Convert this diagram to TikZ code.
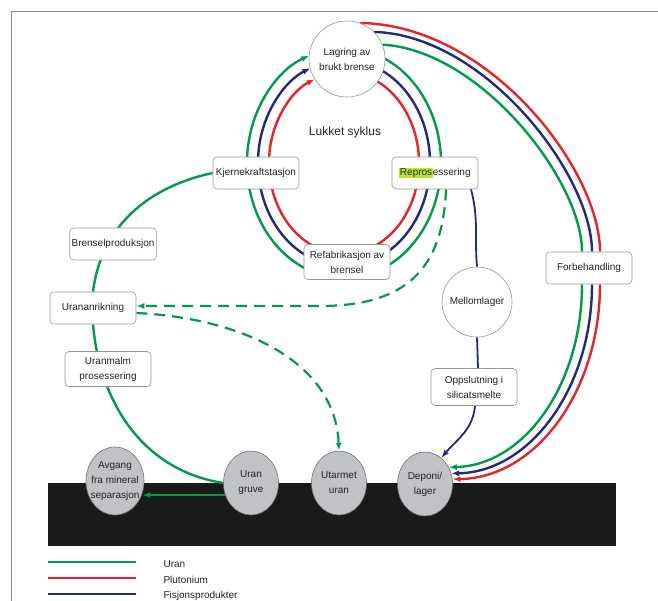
\documentclass[tikz,border=0pt]{standalone}
\usepackage{fontspec}
\setmainfont{Liberation Sans}
\usetikzlibrary{arrows.meta,shapes.geometric}
\definecolor{ugreen}{RGB}{0,155,72}
\definecolor{pred}{RGB}{230,35,40}
\definecolor{fblue}{RGB}{35,40,130}
\definecolor{hl}{RGB}{190,230,40}
\definecolor{boxgray}{RGB}{150,150,150}
\definecolor{discgray}{RGB}{192,194,197}
\definecolor{bandblack}{RGB}{26,26,26}
\definecolor{txtcol}{RGB}{34,34,34}
\pgfdeclarelayer{bg}
\pgfdeclarelayer{lines}
\pgfsetlayers{bg,lines,main}
\begin{document}
\begin{tikzpicture}[x=1pt,y=1pt,
  tstyle/.style={font=\fontsize{10}{15}\selectfont, text=txtcol},
  rbox/.style={tstyle, draw=boxgray, line width=0.6pt, fill=white, rounded corners=4pt, minimum width=86pt, minimum height=32pt, align=center, inner sep=2pt},
  circnode/.style={tstyle, circle, draw=boxgray, line width=0.6pt, fill=white, align=center, inner sep=0pt},
  gdisc/.style={tstyle, ellipse, draw=black!55, line width=0.6pt, fill=discgray, align=center, inner sep=0pt, minimum width=55pt, minimum height=64pt},
  uran/.style={draw=ugreen, line width=2.4pt},
  plut/.style={draw=pred, line width=2.4pt},
  fisj/.style={draw=fblue, line width=2.4pt},
  arr/.style={-{Latex[length=8pt,width=6pt]}},
  dsh/.style={line width=2.2pt, dash pattern=on 11pt off 7pt},
]
\useasboundingbox (0,0) rectangle (658,-601);
\begin{pgfonlayer}{bg}
  \fill[bandblack] (48,-483) rectangle (616,-546);
  \draw[black!45, line width=1pt] (658,-12) -- (11,-12) -- (11,-601);
\end{pgfonlayer}

% nodes
\node[circnode, minimum size=76pt] (lag) at (347,-59) {Lagring av\\brukt brense};
\node[tstyle, font=\fontsize{12}{14}\selectfont] (lukket) at (345,-132) {Lukket syklus};
\node[rbox] (kjern) at (256,-173) {Kjernekraftstasjon};
\node[rbox] (repro) at (435,-173) {{\setlength{\fboxsep}{0.6pt}\colorbox{hl}{Repros}}essering};
\node[rbox, minimum height=35pt] (refab) at (347,-262) {Refabrikasjon av\\brensel};
\node[rbox] (bren) at (113,-244) {Brenselproduksjon};
\node[rbox] (anr) at (93,-308) {Urananrikning};
\node[rbox, minimum height=35pt] (malm) at (108,-369) {Uranmalm\\prosessering};
\node[circnode, minimum size=70pt] (mello) at (477,-302) {Mellomlager};
\node[rbox, minimum height=37pt] (opp) at (474,-387) {Oppslutning i\\silicatsmelte};
\node[rbox] (forb) at (589,-268) {Forbehandling};
\node[gdisc] (depo) at (425,-484) {Deponi/\\lager};
\node[gdisc] (utar) at (339,-483) {Utarmet\\uran};
\node[gdisc] (gruve) at (251,-483) {Uran\\gruve};
\node[gdisc, minimum width=58pt, minimum height=68pt] (avg) at (115,-481) {\makebox[0pt]{Avgang}\\\makebox[0pt]{fra mineral}\\\makebox[0pt]{separasjon}};

% legend
\node[tstyle, anchor=west] (lgu) at (160,-564) {Uran};
\node[tstyle, anchor=west] (lgp) at (160,-580) {Plutonium};
\node[tstyle, anchor=west] (lgf) at (160,-596) {Fisjonsprodukter};

\begin{pgfonlayer}{lines}
  \coordinate (rc) at (344,-163);
  % closed cycle rings
  \draw[uran,arr] ([shift={(250:97 and 115)}]rc) arc[start angle=250,end angle=111,x radius=97,y radius=115];
  \draw[fisj,arr] ([shift={(250:86 and 103)}]rc) arc[start angle=250,end angle=113,x radius=86,y radius=103];
  \draw[plut,arr] ([shift={(250:75 and 91)}]rc) arc[start angle=250,end angle=113,x radius=75,y radius=91];
  \draw[uran] ([shift={(70:97 and 115)}]rc) arc[start angle=70,end angle=-70,x radius=97,y radius=115];
  \draw[fisj] ([shift={(70:86 and 103)}]rc) arc[start angle=70,end angle=-70,x radius=86,y radius=103];
  \draw[plut] ([shift={(70:75 and 91)}]rc) arc[start angle=70,end angle=-70,x radius=75,y radius=91];

  % dashed uranium
  \draw[uran,dsh,arr] ([xshift=11pt]repro.south) .. controls (443,-270) and (405,-306) .. (320,-306) -- ([yshift=2pt]anr.east);
  \draw[uran,dsh,arr] ([yshift=-5pt]anr.east) .. controls (240,-318) and (335,-360) .. (utar.north);

  % fission products via intermediate storage
  \draw[fisj, line width=1.8pt] ([xshift=36pt]repro.south) to[out=-75,in=95] (mello.north);
  \draw[fisj, line width=1.8pt] (mello.south) -- ([xshift=4pt]opp.north);
  \draw[fisj, line width=1.8pt, arr] ([xshift=1pt]opp.south) to[out=-95,in=50] (depo.58);

  % open cycle arcs
  \draw[plut] (lag.70) .. controls (490,-25) and (600,-170) .. ([xshift=11pt]forb.north);
  \draw[fisj] (lag.45) .. controls (485,-35) and (592,-175) .. ([xshift=3pt]forb.north);
  \draw[uran] (lag.22) .. controls (480,-50) and (582,-180) .. ([xshift=-7pt]forb.north);
  \draw[plut,arr] ([xshift=11pt]forb.south) .. controls (600,-391) and (536,-478) .. (depo.10);
  \draw[fisj,arr] ([xshift=3pt]forb.south) .. controls (592,-388) and (530,-472) .. (depo.22);
  \draw[uran,arr] ([xshift=-7pt]forb.south) .. controls (582,-384) and (525,-465) .. (depo.35);

  % front end
  \draw[uran] (gruve.west) to[out=171,in=-85] (anr.south);
  \draw[uran] (anr.north) to[out=83,in=192] (kjern.west);
  \draw[uran,arr] (gruve.205) -- (avg.-25 |- gruve.205);

  % legend lines
  \draw[uran, line width=2.8pt] (48,-562) -- (136,-562);
  \draw[plut, line width=2.8pt] (48,-578) -- (136,-578);
  \draw[fisj, line width=2.8pt] (48,-594) -- (136,-594);
\end{pgfonlayer}
\end{tikzpicture}
\end{document}
